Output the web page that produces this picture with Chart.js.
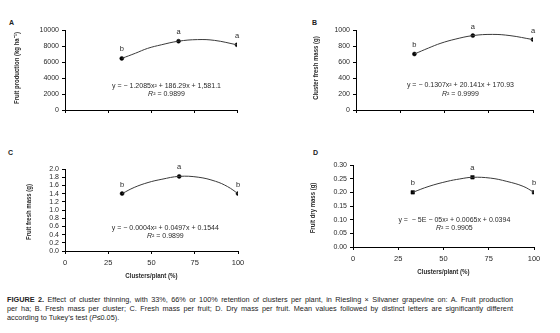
<!DOCTYPE html>
<html>
<head>
<meta charset="utf-8">
<script src="https://cdn.jsdelivr.net/npm/chart.js@4.4.0/dist/chart.umd.min.js"></script>
<style>
  body { margin: 0; background: #fff; }
  #wrap { position: relative; width: 560px; height: 333px; overflow: hidden;
          font-family: "Liberation Sans", Arial, sans-serif; color: #222; }
  .cv { position: absolute; }
  .panel { position: absolute; font: bold 7px "Liberation Sans", Arial, sans-serif; color: #222; }
  .cap { position: absolute; left: 7px; width: 506px; font-size: 7.3px; line-height: 9px; color: #222; white-space: nowrap; }
  .just { text-align: justify; text-align-last: justify; white-space: normal; }
</style>
</head>
<body>
<div id="wrap">
  <div class="panel" style="left:9px;top:19px">A</div>
  <div class="panel" style="left:312px;top:19px">B</div>
  <div class="panel" style="left:8px;top:149px">C</div>
  <div class="panel" style="left:313px;top:149px">D</div>

  <canvas class="cv" id="chartA" width="280" height="140" style="left:0;top:0"></canvas>
  <canvas class="cv" id="chartB" width="280" height="140" style="left:280px;top:0"></canvas>
  <canvas class="cv" id="chartC" width="280" height="150" style="left:0;top:140px"></canvas>
  <canvas class="cv" id="chartD" width="280" height="150" style="left:280px;top:140px"></canvas>

  <div class="cap just" style="top:295px"><b>FIGURE 2.</b> Effect of cluster thinning, with 33%, 66% or 100% retention of clusters per plant, in Riesling × Silvaner grapevine on: A. Fruit production</div>
  <div class="cap just" style="top:304px">per ha; B. Fresh mass per cluster; C. Fresh mass per fruit; D. Dry mass per fruit. Mean values followed by distinct letters are significantly different</div>
  <div class="cap" style="top:313px">according to Tukey’s test (<i>P</i>≤0.05).</div>
</div>

<script>
// cluster retention levels (%)
const clusters = [33, 66, 100];
const xTicks = [0, 25, 50, 75, 100];

// treatment means
const fruitProduction = [6450, 8600, 8150];
const clusterMass = [700, 930, 880];
const fruitFreshMass = [1.40, 1.82, 1.40];
const fruitDryMass = [0.200, 0.255, 0.200];

// y tick values per panel
const ticksA = [0, 2000, 4000, 6000, 8000, 10000];
const ticksB = [0, 200, 400, 600, 800, 1000];
const ticksC = [0.0, 0.2, 0.4, 0.6, 0.8, 1.0, 1.2, 1.4, 1.6, 1.8, 2.0];
const ticksD = [0.00, 0.05, 0.10, 0.15, 0.20, 0.25, 0.30];

// Tukey letters
const lettersA = ['b', 'a', 'a'];
const lettersB = ['b', 'a', 'a'];
const lettersC = ['b', 'a', 'b'];
const lettersD = ['b', 'a', 'b'];

// fitted curves
const trendXA = [33, 41, 48, 56, 66, 77, 87, 100];
const trendA = [6450, 7100, 7700, 8150, 8600, 8800, 8700, 8150];
const trendXB = [33, 41, 48, 56, 66, 77, 87, 100];
const trendB = [700, 775, 835, 885, 930, 945, 930, 880];
const trendXC = [33, 40, 48, 56, 66, 77, 87, 94, 100];
const trendC = [1.40, 1.55, 1.67, 1.75, 1.82, 1.80, 1.70, 1.57, 1.40];
const trendXD = [33, 42, 52, 59, 66, 76, 85, 94, 100];
const trendD = [0.200, 0.222, 0.240, 0.249, 0.255, 0.252, 0.240, 0.222, 0.200];

// regression text
const eqA = ['y = − 1.2085x² + 186.29x + 1,581.1', '0.9899'];
const eqB = ['y = − 0.1307x² + 20.141x + 170.93', '0.9999'];
const eqC = ['y = − 0.0004x² + 0.0497x + 0.1544', '0.9899'];
const eqD = ['y =  − 5E − 05x² + 0.0065x + 0.0394', '0.9905'];

const textFont = '"Liberation Sans", Arial, sans-serif';
const inkColor = '#2a2a2a';

// letters above points, regression equation, condensed axis titles
const annotPlugin = {
    id: 'annot',
    afterDatasetsDraw: function(chart, args, opts) {
        const ctx = chart.ctx;
        const meta = chart.getDatasetMeta(1);
        const area = chart.chartArea;
        ctx.save();
        ctx.fillStyle = inkColor;
        ctx.textAlign = 'center';
        ctx.textBaseline = 'middle';
        ctx.font = '7.5px ' + textFont;
        meta.data.forEach(function(pt, i) {
            ctx.fillText(opts.letters[i], pt.x, pt.y - opts.lift);
        });

        const cx = area.left + opts.fx * (area.right - area.left);
        const cy = area.top + opts.fy * (area.bottom - area.top);
        ctx.font = '7px ' + textFont;
        ctx.fillText(opts.eq[0], cx, cy);

        // R² line with italic R
        const rest = '² = ' + opts.eq[1];
        ctx.font = 'italic 7px ' + textFont;
        const wR = ctx.measureText('R').width;
        ctx.font = '7px ' + textFont;
        const wRest = ctx.measureText(rest).width;
        const x0 = cx - (wR + wRest) / 2;
        ctx.textAlign = 'left';
        ctx.font = 'italic 7px ' + textFont;
        ctx.fillText('R', x0, cy + 8.5);
        ctx.font = '7px ' + textFont;
        ctx.fillText(rest, x0 + wR, cy + 8.5);

        // axis titles, squeezed like a condensed face
        ctx.textAlign = 'center';
        ctx.font = 'bold 7.5px ' + textFont;
        ctx.save();
        ctx.translate(area.left - opts.yTitleGap, (area.top + area.bottom) / 2 + opts.yTitleShift);
        ctx.rotate(-Math.PI / 2);
        ctx.scale(0.8, 1);
        ctx.fillText(opts.yTitle, 0, 0);
        ctx.restore();
        if (opts.xTitle) {
            ctx.save();
            ctx.translate((area.left + area.right) / 2, area.bottom + opts.xTitleGap);
            ctx.scale(0.82, 1);
            ctx.fillText(opts.xTitle, 0, 0);
            ctx.restore();
        }
        ctx.restore();
    }
};

function makePanel(id, cfg) {
    const pts = clusters.map(function(x, i) { return { x: x, y: cfg.values[i] }; });
    const curve = cfg.trendX.map(function(x, i) { return { x: x, y: cfg.trend[i] }; });
    return new Chart(document.getElementById(id), {
        type: 'scatter',
        data: {
            datasets: [{
                data: curve,
                showLine: true,
                tension: 0.4,
                borderColor: '#3a3a3a',
                borderWidth: 1,
                pointRadius: 0
            }, {
                data: pts,
                showLine: false,
                pointStyle: cfg.marker,
                pointRadius: cfg.radius,
                pointBackgroundColor: '#000',
                pointBorderColor: '#000',
                pointBorderWidth: 0.5
            }]
        },
        options: {
            responsive: false,
            animation: false,
            layout: { padding: { top: cfg.top, right: cfg.right, left: 0, bottom: 0 } },
            plugins: {
                legend: { display: false },
                tooltip: { enabled: false },
                annot: {
                    letters: cfg.letters, eq: cfg.eq, fx: cfg.fx, fy: cfg.fy, lift: 9,
                    yTitle: cfg.title, yTitleGap: cfg.titleGap, yTitleShift: cfg.titleShift,
                    xTitle: cfg.showX ? 'Clusters/plant (%)' : '', xTitleGap: 25
                }
            },
            scales: {
                x: {
                    type: 'linear',
                    min: 0,
                    max: 100,
                    afterBuildTicks: function(s) { s.ticks = xTicks.map(function(v) { return { value: v }; }); },
                    ticks: { display: cfg.showX, autoSkip: false, padding: 4, color: inkColor,
                             font: { family: textFont, size: 7.5 } },
                    grid: { drawOnChartArea: false, drawTicks: true, tickLength: 3, color: '#000' },
                    border: { display: true, color: '#000', width: 1 },
                    afterFit: function(s) { s.height = cfg.bottom; }
                },
                y: {
                    min: 0,
                    max: cfg.max,
                    afterBuildTicks: function(s) { s.ticks = cfg.ticks.map(function(v) { return { value: v }; }); },
                    ticks: { autoSkip: false, padding: 3, color: inkColor,
                             font: { family: textFont, size: 7 },
                             callback: function(v) { return Number(v).toFixed(cfg.dec); } },
                    grid: { drawOnChartArea: false, drawTicks: true, tickLength: 3, color: '#000' },
                    border: { display: true, color: '#000', width: 1 },
                    afterFit: function(s) { s.width = cfg.left; }
                }
            }
        },
        plugins: [annotPlugin]
    });
}

makePanel('chartA', {
    values: fruitProduction, letters: lettersA, eq: eqA, trendX: trendXA, trend: trendA,
    title: 'Fruit production (kg ha⁻¹)', ticks: ticksA, max: 10000, dec: 0,
    marker: 'circle', radius: 2, showX: false,
    top: 30, right: 43, left: 65, bottom: 30, titleGap: 48, titleShift: -2, fx: 0.59, fy: 0.70
});

makePanel('chartB', {
    values: clusterMass, letters: lettersB, eq: eqB, trendX: trendXB, trend: trendB,
    title: 'Cluster fresh mass (g)', ticks: ticksB, max: 1000, dec: 0,
    marker: 'circle', radius: 2, showX: false,
    top: 30, right: 27, left: 76, bottom: 30, titleGap: 40, titleShift: -2, fx: 0.59, fy: 0.69
});

makePanel('chartC', {
    values: fruitFreshMass, letters: lettersC, eq: eqC, trendX: trendXC, trend: trendC,
    title: 'Fruit fresh mass (g)', ticks: ticksC, max: 2.0, dec: 1,
    marker: 'circle', radius: 2, showX: true,
    top: 29, right: 42, left: 65, bottom: 39, titleGap: 36, titleShift: 2, fx: 0.58, fy: 0.72
});

makePanel('chartD', {
    values: fruitDryMass, letters: lettersD, eq: eqD, trendX: trendXD, trend: trendD,
    title: 'Fruit dry mass (g)', ticks: ticksD, max: 0.30, dec: 2,
    marker: 'rect', radius: 2.5, showX: true,
    top: 25, right: 26, left: 73, bottom: 43, titleGap: 40, titleShift: 2, fx: 0.56, fy: 0.67
});
</script>
</body>
</html>
